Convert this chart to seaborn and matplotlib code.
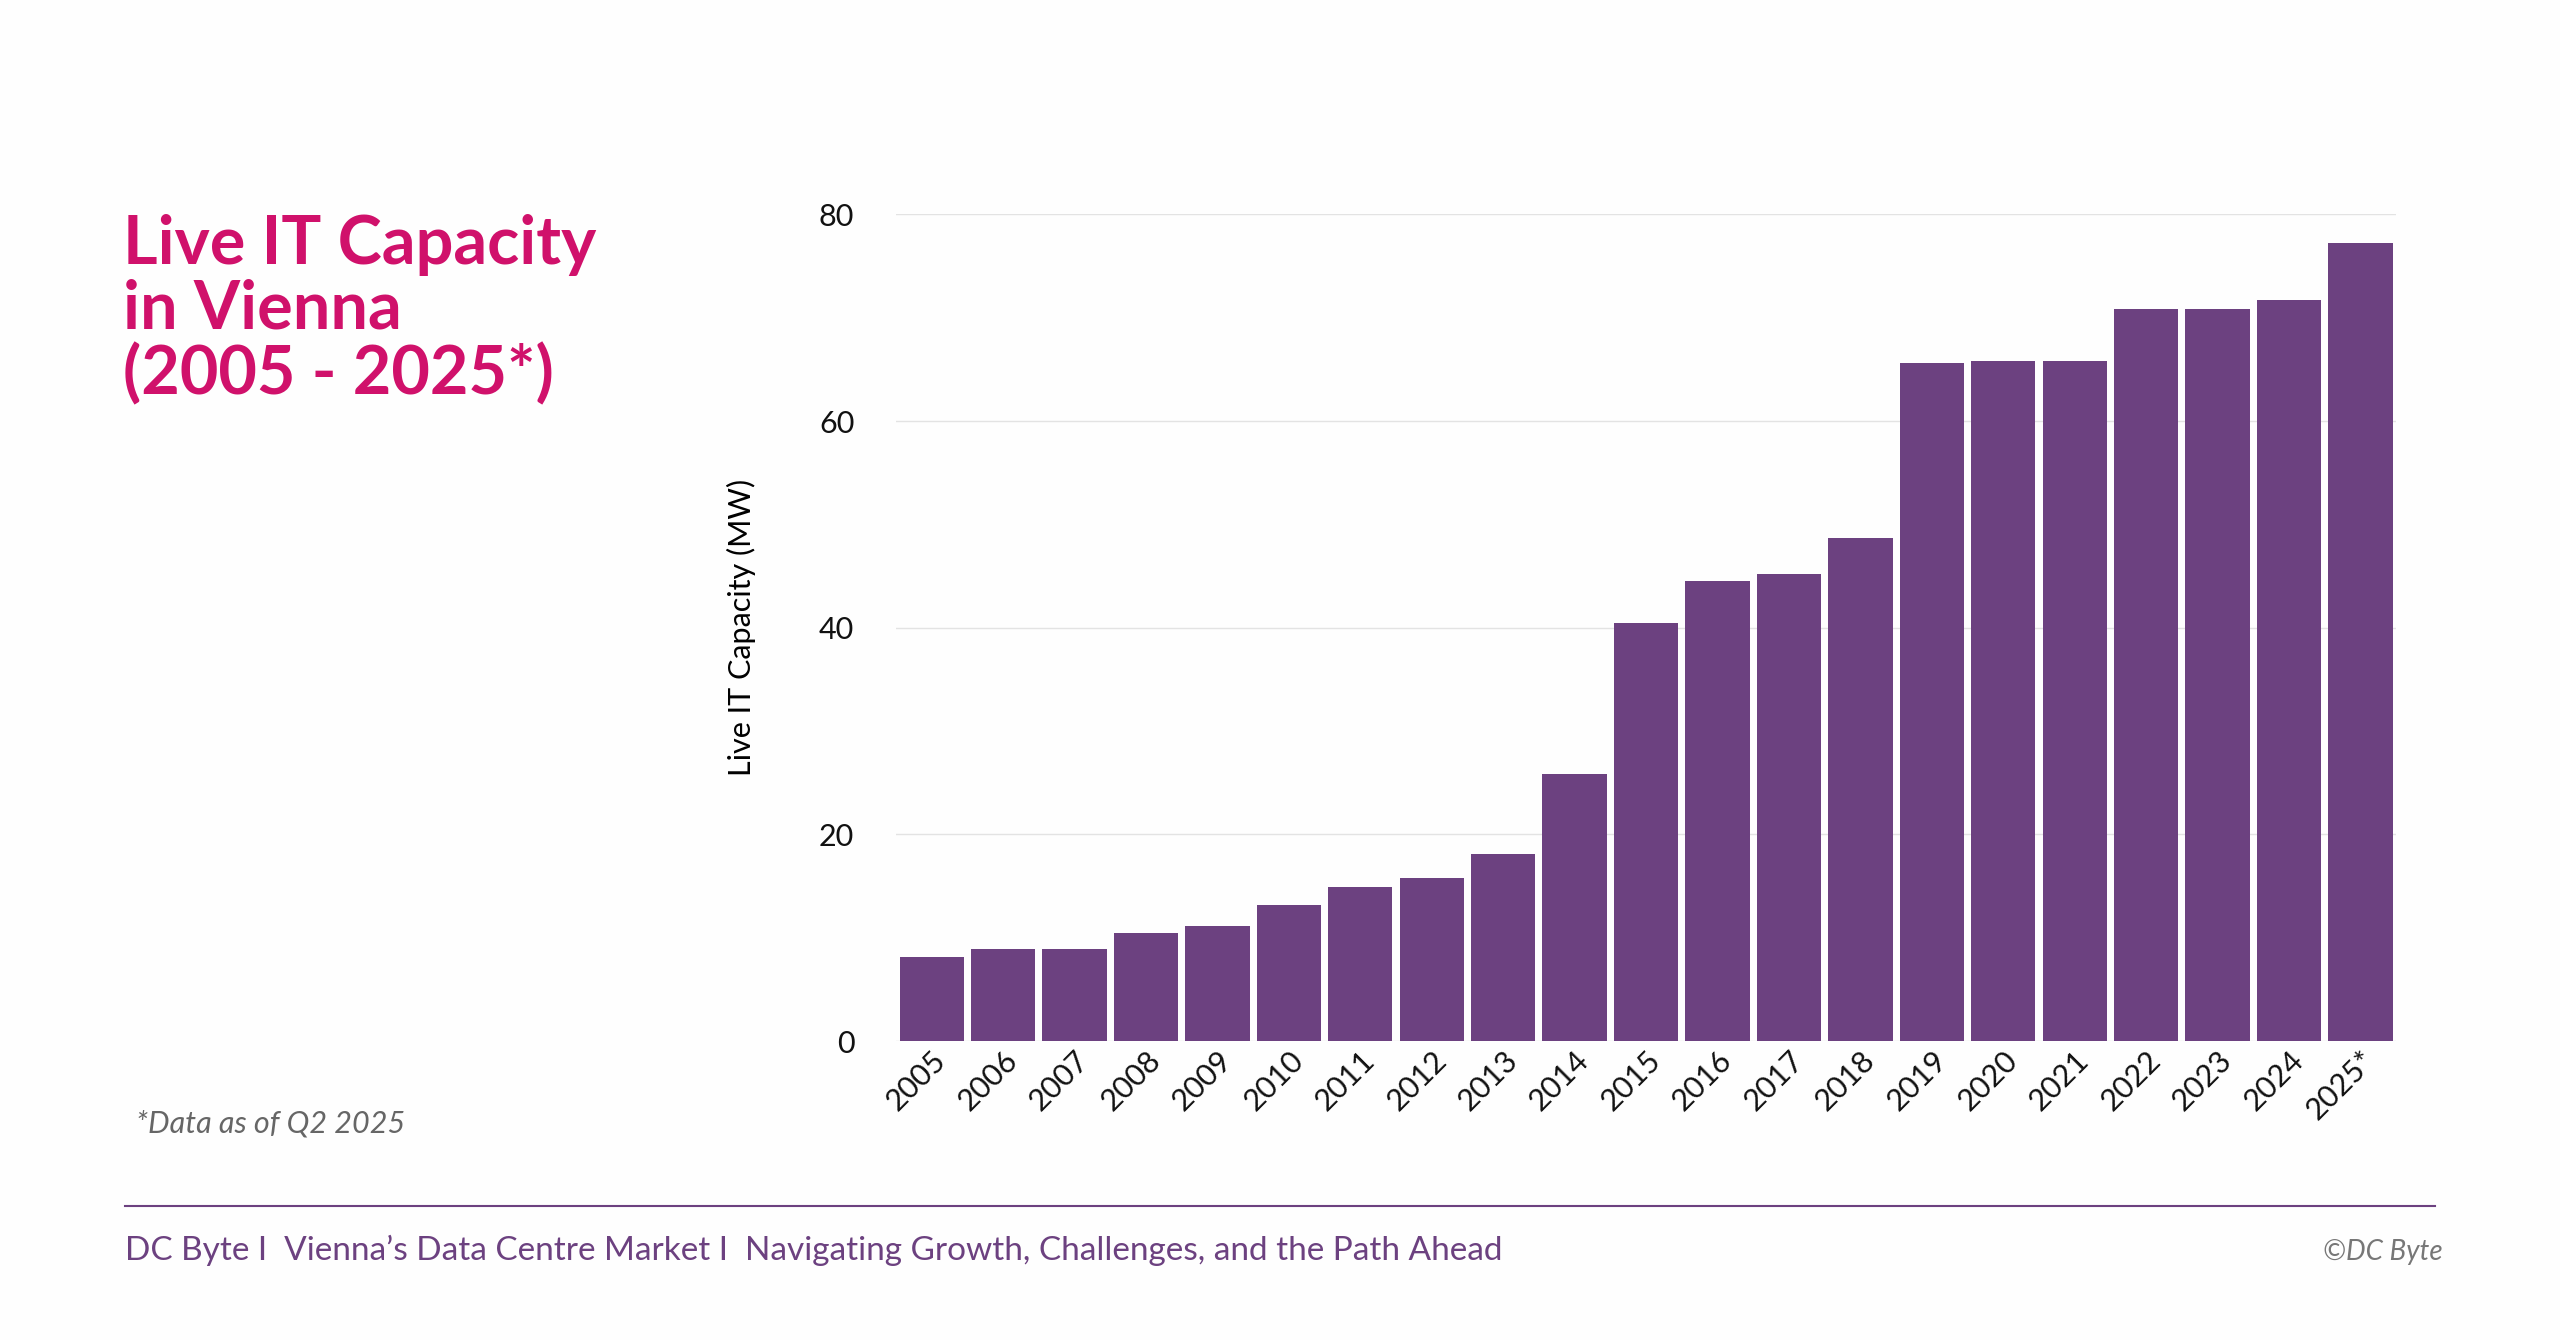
import matplotlib
matplotlib.use("Agg")
import matplotlib.pyplot as plt
import seaborn as sns
import pandas as pd
from matplotlib.lines import Line2D

years = ["2005","2006","2007","2008","2009","2010","2011","2012","2013","2014","2015",
         "2016","2017","2018","2019","2020","2021","2022","2023","2024","2025*"]
capacity = [8.1, 8.9, 8.9, 10.5, 11.1, 13.2, 14.9, 15.8, 18.1, 25.9, 40.5,
            44.5, 45.2, 48.7, 65.6, 65.8, 65.8, 70.8, 70.8, 71.7, 77.2]
yticks = [0, 20, 40, 60, 80]

plt.rcParams["font.family"] = "Lato"
df = pd.DataFrame({"year": years, "cap": capacity})
fig = plt.figure(figsize=(25.6, 13.4), dpi=100)
fig.patch.set_facecolor("#FEFEFE")
ax = fig.add_axes([0.35, 0.223, 0.586, 0.617])
ax.set_facecolor("#FEFEFE")
sns.barplot(data=df, x="year", y="cap", color="#6C4180", saturation=1, width=0.9, ax=ax, zorder=3)
ax.set_ylim(0, 80)
ax.set_xlim(-0.5, len(years) - 0.5)
ax.set_yticks(yticks)
ax.yaxis.grid(True, color="#E3E3E3", linewidth=1, zorder=0)
ax.set_axisbelow(True)
for s in ax.spines.values():
    s.set_visible(False)
ax.tick_params(axis="both", length=0, labelsize=22, colors="#111111")
ax.tick_params(axis="y", pad=30)
plt.setp(ax.get_xticklabels(), rotation=45, ha="right", rotation_mode="anchor")
ax.set_xlabel("")
ax.set_ylabel("Live IT Capacity (MW)", fontsize=22, labelpad=45)

fig.text(0.048, 0.84, "Live IT Capacity\nin Vienna\n(2005 - 2025*)", fontsize=48, fontweight="bold",
         color="#D0116B", va="top", ha="left", linespacing=1.05)
fig.text(0.053, 0.155, "*Data as of Q2 2025", fontsize=22, style="italic", color="#666666")
fig.add_artist(Line2D([0.049, 0.951], [0.1, 0.1], color="#6C4180", linewidth=1.5))
fig.text(0.049, 0.06, "DC Byte I  Vienna\u2019s Data Centre Market I  Navigating Growth, Challenges, and the Path Ahead",
         fontsize=24, color="#6C4180")
fig.text(0.954, 0.06, "\u00a9DC Byte", fontsize=20, style="italic", color="#777777", ha="right")
fig.savefig("out.png", dpi=100, facecolor=fig.get_facecolor())
